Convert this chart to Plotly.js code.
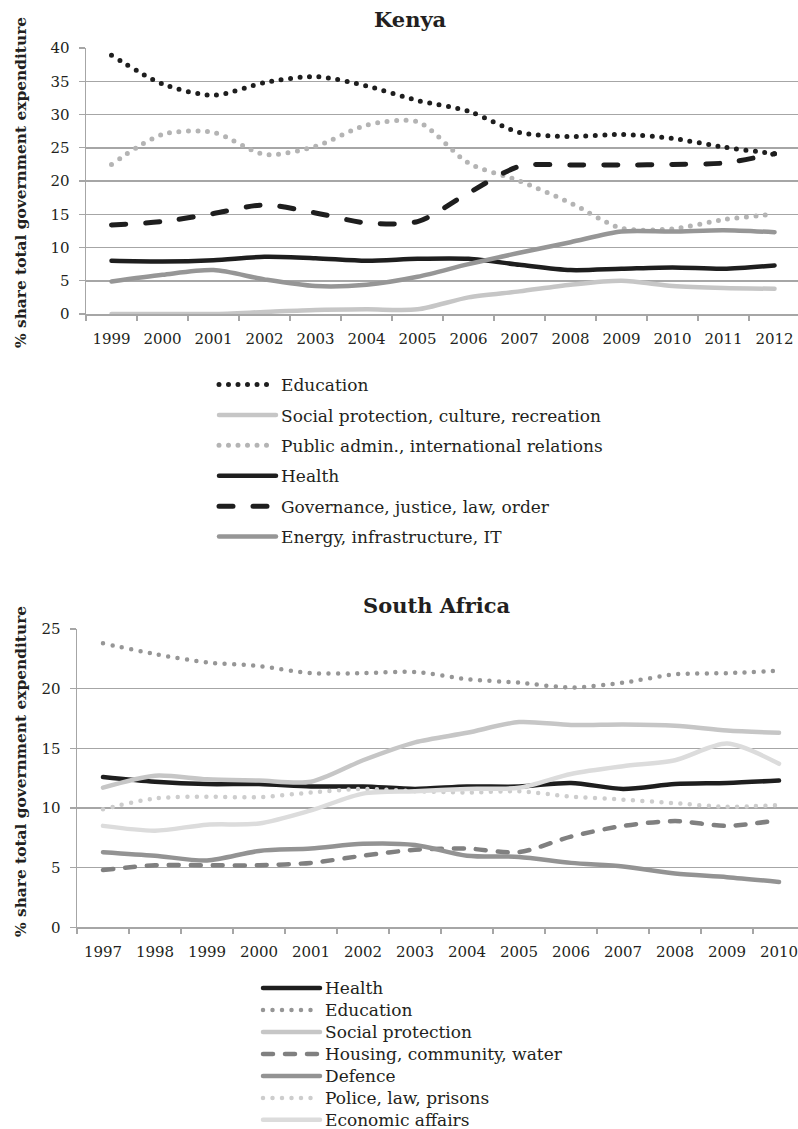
<!DOCTYPE html>
<html>
<head>
<meta charset="utf-8">
<script src="https://cdn.plot.ly/plotly-3.0.1.min.js"></script>
<style>
  html, body { margin: 0; padding: 0; background: #fff; }
  #chart { width: 798px; height: 1129px; }
  .js-line { stroke-linecap: round !important; stroke-linejoin: round !important; }
</style>
</head>
<body>
<div id="chart"></div>
<script>
// ---------- Kenya ----------
var kenyaYears = ['1999','2000','2001','2002','2003','2004','2005','2006','2007','2008','2009','2010','2011','2012'];
var kenyaEducation  = [38.9, 34.6, 32.9, 34.8, 35.7, 34.3, 32.1, 30.5, 27.3, 26.7, 27.0, 26.4, 25.1, 24.1];
var kenyaSocial     = [0.0, 0.0, 0.0, 0.3, 0.6, 0.7, 0.7, 2.5, 3.4, 4.4, 5.0, 4.2, 3.9, 3.8];
var kenyaPublic     = [22.5, 27.0, 27.3, 24.0, 25.2, 28.4, 28.9, 22.7, 20.0, 16.7, 12.9, 12.8, 14.2, 15.0];
var kenyaHealth     = [8.0, 7.9, 8.1, 8.6, 8.4, 8.0, 8.3, 8.3, 7.4, 6.6, 6.8, 7.0, 6.8, 7.3];
var kenyaGovernance = [13.4, 13.9, 15.1, 16.4, 15.2, 13.7, 13.9, 18.2, 22.2, 22.4, 22.4, 22.5, 22.7, 24.1];
var kenyaEnergy     = [4.9, 5.9, 6.6, 5.2, 4.2, 4.4, 5.6, 7.5, 9.2, 10.8, 12.4, 12.4, 12.6, 12.3];
var kenyaNames = ['Education', 'Social protection, culture, recreation', 'Public admin., international relations',
                  'Health', 'Governance, justice, law, order', 'Energy, infrastructure, IT'];
var kenyaYTicks = [0, 5, 10, 15, 20, 25, 30, 35, 40];

// ---------- South Africa ----------
var saYears = ['1997','1998','1999','2000','2001','2002','2003','2004','2005','2006','2007','2008','2009','2010'];
var saHealth    = [12.6, 12.2, 12.0, 12.0, 11.8, 11.8, 11.6, 11.8, 11.8, 12.1, 11.6, 12.0, 12.1, 12.3];
var saEducation = [23.8, 22.9, 22.2, 21.9, 21.3, 21.3, 21.4, 20.8, 20.5, 20.1, 20.5, 21.2, 21.3, 21.5];
var saSocial    = [11.7, 12.7, 12.4, 12.3, 12.2, 14.0, 15.5, 16.3, 17.2, 16.95, 17.0, 16.9, 16.5, 16.3];
var saHousing   = [4.8, 5.2, 5.2, 5.2, 5.4, 6.0, 6.5, 6.6, 6.3, 7.6, 8.5, 8.9, 8.5, 9.0];
var saDefence   = [6.3, 6.0, 5.6, 6.4, 6.6, 7.0, 6.9, 6.0, 5.9, 5.4, 5.1, 4.5, 4.2, 3.8];
var saPolice    = [9.9, 10.8, 10.95, 10.9, 11.3, 11.6, 11.4, 11.3, 11.4, 10.95, 10.7, 10.4, 10.1, 10.25];
var saEconomic  = [8.5, 8.1, 8.6, 8.7, 9.8, 11.2, 11.4, 11.6, 11.7, 12.85, 13.5, 14.0, 15.4, 13.7];
var saNames = ['Health', 'Education', 'Social protection', 'Housing, community, water', 'Defence',
               'Police, law, prisons', 'Economic affairs'];
var saYTicks = [0, 5, 10, 15, 20, 25];

var FONT = 'DejaVu Serif, Liberation Serif, serif';
var TXT = '#231f20';
var GRID = '#a6a6a6';
var DOT = '0px,9.5px';

function tr(x, y, name, color, width, dash, xa, ya, leg, grp) {
  return {
    x: x, y: y, name: name, type: 'scatter', mode: 'lines',
    line: { color: color, width: width, dash: dash, shape: 'spline', smoothing: 0.8 },
    xaxis: xa, yaxis: ya, legend: leg, legendgroup: grp, hoverinfo: 'skip'
  };
}
// the South Africa legend is packed tighter than its text size (as in the original)
function big(name) { return '<span style="font-size:17px">' + name + '</span>'; }

var data = [
  tr(kenyaYears, kenyaEducation,  kenyaNames[0], '#1e1e1e', 5, DOT, 'x', 'y', 'legend', 'k0'),
  tr(kenyaYears, kenyaSocial,     kenyaNames[1], '#c6c6c6', 4.5, 'solid', 'x', 'y', 'legend', 'k1'),
  tr(kenyaYears, kenyaPublic,     kenyaNames[2], '#b4b4b4', 5, DOT, 'x', 'y', 'legend', 'k2'),
  tr(kenyaYears, kenyaHealth,     kenyaNames[3], '#1e1e1e', 4.5, 'solid', 'x', 'y', 'legend', 'k3'),
  tr(kenyaYears, kenyaGovernance, kenyaNames[4], '#1e1e1e', 5, '14px,20px', 'x', 'y', 'legend', 'k4'),
  tr(kenyaYears, kenyaEnergy,     kenyaNames[5], '#969696', 4.5, 'solid', 'x', 'y', 'legend', 'k5'),

  tr(saYears, saHealth,    big(saNames[0]), '#1e1e1e', 4.5, 'solid', 'x2', 'y2', 'legend2', 's0'),
  tr(saYears, saEducation, big(saNames[1]), '#969696', 4.5, DOT, 'x2', 'y2', 'legend2', 's1'),
  tr(saYears, saSocial,    big(saNames[2]), '#c6c6c6', 4.5, 'solid', 'x2', 'y2', 'legend2', 's2'),
  tr(saYears, saHousing,   big(saNames[3]), '#808080', 4.5, '10px,12px', 'x2', 'y2', 'legend2', 's3'),
  tr(saYears, saDefence,   big(saNames[4]), '#939393', 4.5, 'solid', 'x2', 'y2', 'legend2', 's4'),
  tr(saYears, saPolice,    big(saNames[5]), '#cdcdcd', 4.5, DOT, 'x2', 'y2', 'legend2', 's5'),
  tr(saYears, saEconomic,  big(saNames[6]), '#dcdcdc', 4.5, 'solid', 'x2', 'y2', 'legend2', 's6')
];

var H = 1129, W = 798;
function fy(px) { return (H - px) / H; }
function fx(px) { return px / W; }

function xaxisCfg(domainLeft, rangeMax, anchor) {
  return {
    type: 'category', domain: [fx(domainLeft), 1], anchor: anchor,
    range: [-0.5, rangeMax], showgrid: false, zeroline: false,
    showline: true, linecolor: GRID, linewidth: 1.5,
    ticks: 'outside', tickson: 'boundaries', ticklen: 5, tickwidth: 1.3, tickcolor: GRID,
    tickfont: { family: FONT, size: 15, color: TXT }, ticklabelstandoff: 10,
    fixedrange: true
  };
}
function yaxisCfg(domB, domT, rmax, vals, anchor) {
  return {
    domain: [fy(domB), fy(domT)], anchor: anchor, range: [0, rmax],
    tickvals: vals, ticktext: vals.map(String),
    showgrid: true, gridcolor: GRID, gridwidth: 1.5, zeroline: false,
    showline: true, linecolor: GRID, linewidth: 1.5,
    ticks: 'outside', ticklen: 6, tickwidth: 1.3, tickcolor: GRID,
    tickfont: { family: FONT, size: 15, color: TXT }, ticklabelstandoff: 6,
    fixedrange: true
  };
}

var layout = {
  width: W, height: H,
  margin: { l: 0, r: 0, t: 0, b: 0, autoexpand: false },
  paper_bgcolor: '#ffffff', plot_bgcolor: '#ffffff',
  showlegend: true,
  font: { family: FONT, color: TXT },
  xaxis: xaxisCfg(86, 13.46, 'y'),
  yaxis: yaxisCfg(314, 48, 40, kenyaYTicks, 'x'),
  xaxis2: xaxisCfg(77, 13.365, 'y2'),
  yaxis2: yaxisCfg(927.3, 629, 25, saYTicks, 'x2'),
  legend: {
    x: fx(214), xanchor: 'left', y: fy(367), yanchor: 'top',
    orientation: 'v', bgcolor: 'rgba(0,0,0,0)', borderwidth: 0,
    font: { family: FONT, size: 17, color: TXT },
    tracegroupgap: 5.3, itemwidth: 57, traceorder: 'grouped'
  },
  legend2: {
    x: fx(258), xanchor: 'left', y: fy(972), yanchor: 'top',
    orientation: 'v', bgcolor: 'rgba(0,0,0,0)', borderwidth: 0,
    font: { family: FONT, size: 14.6, color: TXT },
    tracegroupgap: 0, itemwidth: 57, traceorder: 'grouped'
  },
  annotations: [
    { text: '<b>Kenya</b>', xref: 'paper', yref: 'paper', x: fx(410), y: fy(20),
      xanchor: 'center', yanchor: 'middle', showarrow: false,
      font: { family: FONT, size: 21, color: TXT } },
    { text: '<b>South Africa</b>', xref: 'paper', yref: 'paper', x: fx(437), y: fy(605),
      xanchor: 'center', yanchor: 'middle', showarrow: false,
      font: { family: FONT, size: 21, color: TXT } },
    { text: '<b>% share total government expenditure</b>', xref: 'paper', yref: 'paper',
      x: fx(21), y: fy(183), xanchor: 'center', yanchor: 'middle', textangle: -90, showarrow: false,
      font: { family: FONT, size: 15.4, color: TXT } },
    { text: '<b>% share total government expenditure</b>', xref: 'paper', yref: 'paper',
      x: fx(21), y: fy(772), xanchor: 'center', yanchor: 'middle', textangle: -90, showarrow: false,
      font: { family: FONT, size: 15.4, color: TXT } }
  ]
};

Plotly.newPlot('chart', data, layout, { displayModeBar: false, staticPlot: true });
</script>
</body>
</html>
